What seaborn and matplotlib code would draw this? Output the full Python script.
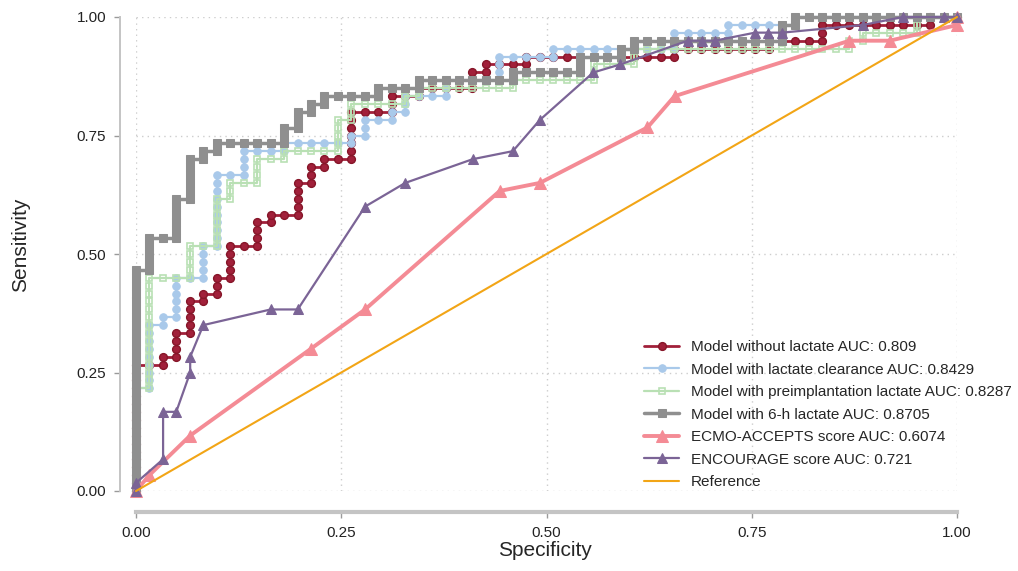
import numpy as np
import pandas as pd
import seaborn as sns
import matplotlib
import matplotlib.pyplot as plt
matplotlib.use('Agg')

sns.set_theme(style="white")
plt.rcParams['font.family'] = ['Liberation Sans', 'DejaVu Sans']

# outcomes sorted by predicted risk, as run lengths: events, non-events, events, ...
red_runs = [16, 2, 1, 1, 3, 1, 4, 1, 1, 1, 2, 1, 4, 2, 3, 1, 1, 2, 4, 1, 2, 1, 1, 2, 6, 3,
            2, 2, 1, 4, 2, 1, 1, 3, 1, 11, 1, 7, 1, 4, 2, 8, 1, 2]
blue_runs = [13, 1, 8, 1, 1, 1, 5, 2, 4, 1, 9, 2, 3, 3, 1, 5, 1, 1, 2, 2, 1, 1, 2, 3, 2, 4,
             3, 4, 1, 9, 2, 4, 1, 5, 1, 12]
green_runs = [13, 1, 14, 3, 4, 2, 6, 1, 2, 2, 3, 2, 1, 4, 4, 1, 2, 4, 1, 1, 1, 7, 1, 6, 2, 3,
              2, 16, 1, 1, 1, 4, 2, 3]
gray_runs = [28, 1, 4, 2, 5, 1, 5, 1, 1, 1, 1, 5, 2, 1, 2, 1, 1, 1, 1, 4, 1, 3, 1, 7, 1, 5,
             2, 3, 1, 1, 1, 11, 2, 1, 1, 12]

# score based curves
ecmo_x = [0.0, 0.016, 0.066, 0.213, 0.279, 0.443, 0.492, 0.623, 0.656, 0.869, 0.918, 1.0, 1.0]
ecmo_y = [0.0, 0.033, 0.117, 0.300, 0.383, 0.633, 0.650, 0.767, 0.833, 0.950, 0.950, 0.983, 1.0]
enc_x = [0.0, 0.0, 0.033, 0.033, 0.049, 0.066, 0.066, 0.082, 0.164, 0.197, 0.279, 0.328, 0.410,
         0.459, 0.492, 0.557, 0.590, 0.672, 0.689, 0.705, 0.754, 0.770, 0.787, 0.885, 0.934,
         0.984, 1.0]
enc_y = [0.0, 0.017, 0.067, 0.167, 0.167, 0.250, 0.283, 0.350, 0.383, 0.383, 0.600, 0.650, 0.700,
         0.717, 0.783, 0.883, 0.900, 0.950, 0.950, 0.950, 0.967, 0.967, 0.967, 0.983, 1.0,
         1.0, 1.0]
ref_x = [0.0, 1.0]
ref_y = [0.0, 1.0]

labels = ['Model without lactate AUC: 0.809',
          'Model with lactate clearance AUC: 0.8429',
          'Model with preimplantation lactate AUC: 0.8287',
          'Model with 6-h lactate AUC: 0.8705',
          'ECMO-ACCEPTS score AUC: 0.6074',
          'ENCOURAGE score AUC: 0.721',
          'Reference']
ticks = [0, 0.25, 0.5, 0.75, 1.0]
tick_labels = ['0.00', '0.25', '0.50', '0.75', '1.00']


def roc_from_runs(runs):
    outcome = []
    for i, n in enumerate(runs):
        outcome += [1 - i % 2] * n
    outcome = np.array(outcome)
    tp = np.concatenate([[0], np.cumsum(outcome)])
    fp = np.concatenate([[0], np.cumsum(1 - outcome)])
    return pd.DataFrame({'x': fp / fp[-1], 'y': tp / tp[-1]})


fig = plt.figure(figsize=(10.18, 5.71), dpi=100)
ax = fig.add_axes([136 / 1018, 1 - 491 / 571, 821 / 1018, 474 / 571])

styles = [
    (roc_from_runs(red_runs), dict(color='#a1203a', lw=2, marker='o', ms=5.6,
                                   mfc='#a1203a', mec='#861528', mew=1)),
    (roc_from_runs(blue_runs), dict(color='#a9c9ea', lw=1.6, marker='o', ms=5.4,
                                    mfc='#a9c9ea', mec='#a9c9ea')),
    (roc_from_runs(green_runs), dict(color='#b9e0b4', lw=1.6, marker='s', ms=4.6,
                                     mfc='none', mec='#b9e0b4', mew=1.2)),
    (roc_from_runs(gray_runs), dict(color='#8f8f8f', lw=2.5, marker='s', ms=5.8,
                                    mfc='#8f8f8f', mec='#8f8f8f')),
    (pd.DataFrame({'x': ecmo_x, 'y': ecmo_y}), dict(color='#f48b95', lw=2.8, marker='^', ms=8,
                                                    mfc='#f48b95', mec='#f48b95')),
    (pd.DataFrame({'x': enc_x, 'y': enc_y}), dict(color='#7b6496', lw=1.6, marker='^', ms=7.5,
                                                  mfc='#7b6496', mec='#7b6496')),
    (pd.DataFrame({'x': ref_x, 'y': ref_y}), dict(color='#f2a516', lw=1.5)),
]

for (df, kw), lab in zip(styles, labels):
    sns.lineplot(x='x', y='y', data=df, ax=ax, sort=False, estimator=None,
                 label=lab, clip_on=False, **kw)

ax.set_xlim(0, 1)
ax.set_ylim(0, 1)
ax.set_xticks(ticks)
ax.set_yticks(ticks)
narrow = ['Liberation Sans Narrow', 'Liberation Sans', 'DejaVu Sans']
ax.set_xticklabels(tick_labels, family=narrow, fontsize=10.5)
ax.set_yticklabels(tick_labels, family=narrow, fontsize=10.5)
ax.grid(True, linestyle=(0, (1, 3)), color='#cdcdcd', linewidth=1)
ax.set_axisbelow(True)

for s in ['top', 'right']:
    ax.spines[s].set_visible(False)
ax.spines['left'].set_position(('outward', 11.5))
ax.spines['bottom'].set_position(('outward', 15))
ax.spines['left'].set_color('#c4c4c4')
ax.spines['left'].set_linewidth(1.4)
ax.spines['bottom'].set_color('#c4c4c4')
ax.spines['bottom'].set_linewidth(3)
ax.tick_params(axis='both', which='both', length=4, width=1, color='#9a9a9a',
               labelcolor='#222222', left=True, bottom=True, pad=6)

ax.set_xlabel('Specificity', fontsize=15, family=narrow, va='center')
ax.set_ylabel('Sensitivity', fontsize=15, family=narrow, va='center')
ax.xaxis.set_label_coords(0.498, -0.1245)
ax.yaxis.set_label_coords(-0.141, 0.519)

ax.legend(loc='upper left', bbox_to_anchor=(644 / 1018, 1 - 340 / 571),
          bbox_transform=fig.transFigure, frameon=False, fontsize=11,
          handlelength=2.3, handletextpad=0.75, labelspacing=0.56,
          borderpad=0, borderaxespad=0)

fig.savefig('out.png', dpi=100)
